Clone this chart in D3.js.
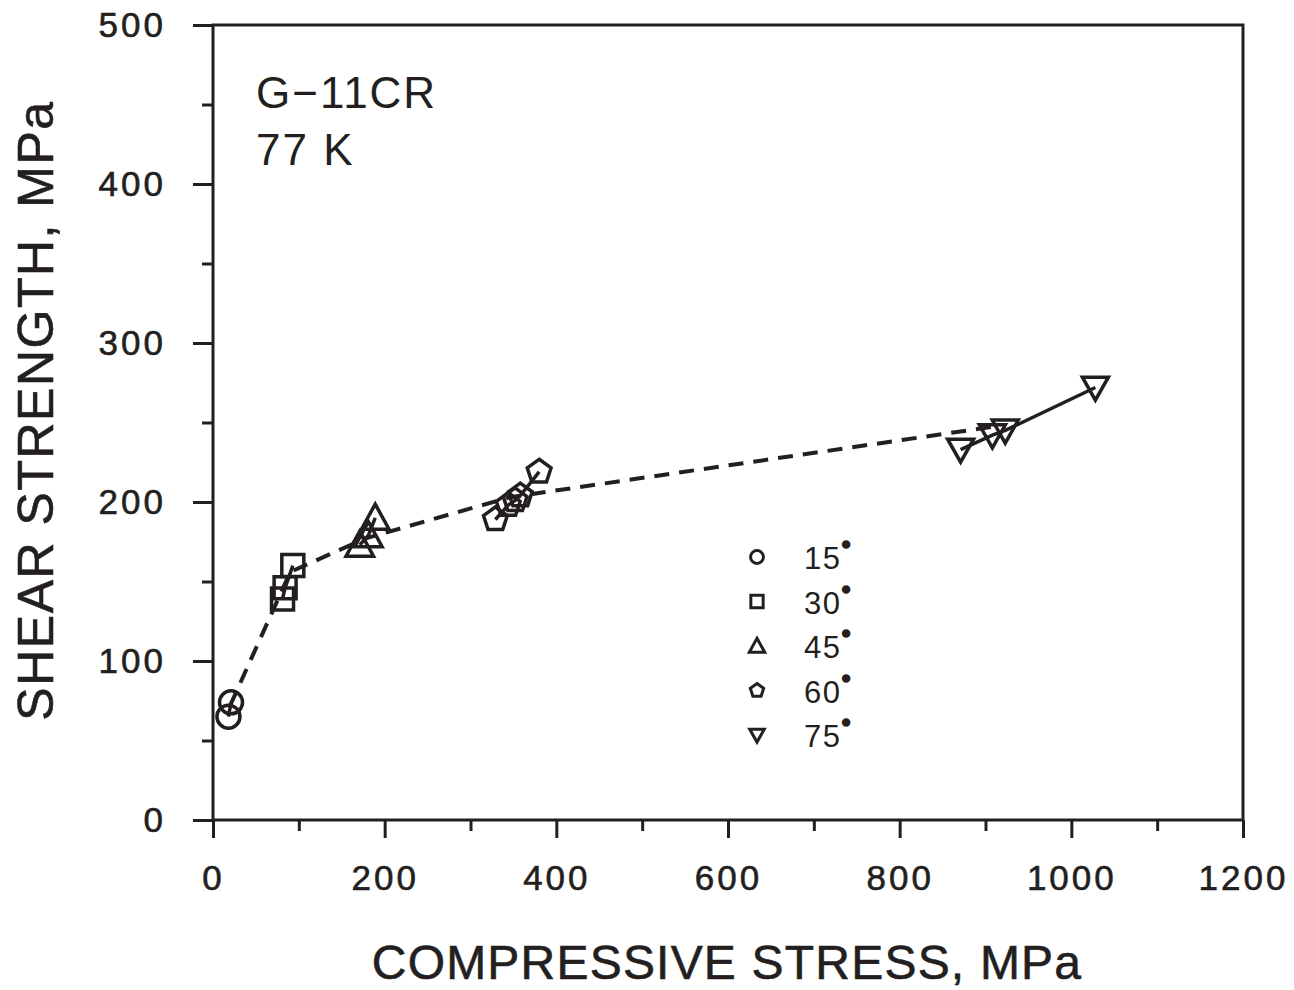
<!DOCTYPE html>
<html lang="en">
<head>
  <meta charset="UTF-8">
  <title>G-11CR shear strength</title>
  <script src="https://d3js.org/d3.v7.min.js"></script>
  <style>
    body { margin: 0; background: #fff; }
    svg { display: block; font-family: "Liberation Sans", Arial, sans-serif; }
    .tick text { fill: #231f20; }
  </style>
</head>
<body>
<div id="chart"></div>
<script>
  // data: [compressive stress, shear strength] in MPa
  const deg15 = [[18, 65], [21, 74]];
  const deg30 = [[81, 139], [84, 146], [93, 160]];
  const deg45 = [[171, 173], [181, 179], [189, 190]];
  const deg60 = [[329, 189], [344, 198], [352, 201], [358, 204], [380, 219]];
  const deg75 = [[871, 233], [908, 242], [923, 245], [1028, 272]];
  // dashed curve through the groups
  const fitLine = [[20, 72], [90, 156], [177, 177], [346, 203], [917, 248]];

  const seriesNames = ["15", "30", "45", "60", "75"];
  const seriesShapes = ["circle", "square", "triangle", "pentagon", "invtriangle"];
  const xTicks = [0, 200, 400, 600, 800, 1000, 1200];
  const yTicks = [0, 100, 200, 300, 400, 500];

  const W = 1294, H = 990;
  const plotLeft = 213, plotRight = 1243, plotTop = 25, plotBottom = 820;
  const ink = "#231f20";

  const svg = d3.select("#chart").append("svg")
    .attr("width", W).attr("height", H);

  const x = d3.scaleLinear().domain([0, 1200]).range([plotLeft, plotRight]);
  const y = d3.scaleLinear().domain([0, 500]).range([plotBottom, plotTop]);

  // shape paths centred on 0,0
  function shapePath(kind, s) {
    const p = d3.path();
    if (kind === "circle") {
      p.arc(0, 0, s * 0.46, 0, 2 * Math.PI);
    } else if (kind === "square") {
      const h = s * 0.44;
      p.rect(-h, -h, 2 * h, 2 * h);
    } else if (kind === "triangle") {
      const w = s * 0.55, hh = s * 0.5;
      p.moveTo(0, -hh * 1.1); p.lineTo(w, hh * 0.9); p.lineTo(-w, hh * 0.9); p.closePath();
    } else if (kind === "invtriangle") {
      const w = s * 0.52, hh = s * 0.46;
      p.moveTo(-w, -hh * 0.9); p.lineTo(w, -hh * 0.9); p.lineTo(0, hh * 1.1); p.closePath();
    } else if (kind === "pentagon") {
      const r = s * 0.5;
      for (let i = 0; i < 5; i++) {
        const a = -Math.PI / 2 + i * 2 * Math.PI / 5;
        if (i === 0) p.moveTo(r * Math.cos(a), r * Math.sin(a));
        else p.lineTo(r * Math.cos(a), r * Math.sin(a));
      }
      p.closePath();
    }
    return p.toString();
  }

  // axes
  const xMinor = d3.range(100, 1200, 200);
  const yMinor = d3.range(50, 500, 100);

  const gx = svg.append("g").attr("transform", `translate(0,${plotBottom})`);
  gx.call(d3.axisBottom(x).tickValues(xTicks).tickSize(18).tickPadding(22).tickFormat(d3.format("d")));
  gx.append("g").call(d3.axisBottom(x).tickValues(xMinor).tickSize(11).tickFormat(""));

  const gy = svg.append("g").attr("transform", `translate(${plotLeft},0)`);
  gy.call(d3.axisLeft(y).tickValues(yTicks).tickSize(20).tickPadding(27).tickFormat(d3.format("d")));
  gy.append("g").call(d3.axisLeft(y).tickValues(yMinor).tickSize(11).tickFormat(""));

  svg.selectAll(".domain").remove();
  svg.selectAll(".tick line").attr("stroke", ink).attr("stroke-width", 3);
  svg.selectAll(".tick text")
    .attr("font-size", 35).attr("letter-spacing", 3)
    .attr("stroke", ink).attr("stroke-width", 0.6);
  gx.selectAll(".tick text").attr("dy", "0.85em");

  svg.append("rect")
    .attr("x", plotLeft).attr("y", plotTop)
    .attr("width", plotRight - plotLeft).attr("height", plotBottom - plotTop)
    .attr("fill", "none").attr("stroke", ink).attr("stroke-width", 3);

  // axis titles
  svg.append("text")
    .attr("x", (plotLeft + plotRight) / 2 - 1).attr("y", 979)
    .attr("text-anchor", "middle").attr("font-size", 48).attr("letter-spacing", 1.2)
    .attr("fill", ink).attr("stroke", ink).attr("stroke-width", 0.6)
    .text("COMPRESSIVE STRESS, MPa");

  svg.append("text")
    .attr("transform", `translate(53,${(plotTop + plotBottom) / 2 - 12}) rotate(-90)`)
    .attr("text-anchor", "middle").attr("font-size", 50).attr("letter-spacing", 1.5)
    .attr("fill", ink).attr("stroke", ink).attr("stroke-width", 0.6)
    .text("SHEAR STRENGTH, MPa");

  // material label
  svg.append("text").attr("x", 256).attr("y", 108)
    .attr("font-size", 44).attr("letter-spacing", 2).attr("fill", ink).text("G\u221211CR");
  svg.append("text").attr("x", 256).attr("y", 165)
    .attr("font-size", 44).attr("letter-spacing", 2).attr("fill", ink).text("77 K");

  // dashed curve
  const line = d3.line().x(d => x(d[0])).y(d => y(d[1]));
  svg.append("path")
    .attr("d", line(fitLine))
    .attr("fill", "none").attr("stroke", ink).attr("stroke-width", 4)
    .attr("stroke-dasharray", "15,10");

  // series: solid line through each group plus markers
  const groups = [deg15, deg30, deg45, deg60, deg75];
  groups.forEach((pts, i) => {
    const sorted = pts.slice().sort((a, b) => a[0] - b[0]);
    svg.append("path")
      .attr("d", line(sorted))
      .attr("fill", "none").attr("stroke", ink).attr("stroke-width", 3.5);
    svg.append("g").selectAll("path")
      .data(pts)
      .join("path")
      .attr("transform", d => `translate(${x(d[0])},${y(d[1])})`)
      .attr("d", shapePath(seriesShapes[i], 25))
      .attr("fill", "none").attr("stroke", ink).attr("stroke-width", 3.5);
  });

  // legend
  const legend = svg.append("g");
  const legY = d3.scalePoint().domain(seriesNames).range([557, 735]);
  seriesNames.forEach((name, i) => {
    const row = legend.append("g").attr("transform", `translate(757,${legY(name)})`);
    row.append("path").attr("d", shapePath(seriesShapes[i], 14))
      .attr("fill", "none").attr("stroke", ink).attr("stroke-width", 3);
    const t = row.append("text").attr("x", 47).attr("y", 12)
      .attr("font-size", 31).attr("letter-spacing", 1.5).attr("fill", ink);
    t.append("tspan").text(name);
    t.append("tspan").attr("dy", -14).attr("dx", 1).attr("font-size", 18)
      .attr("stroke", ink).attr("stroke-width", 3.5).text("\u00b0");
  });
</script>
</body>
</html>
